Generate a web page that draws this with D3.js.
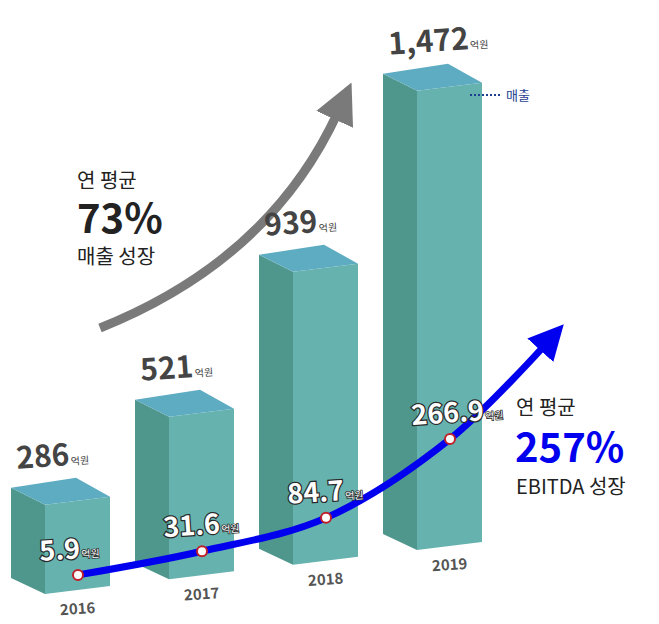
<!DOCTYPE html>
<html><head><meta charset="utf-8">
<script src="https://cdn.jsdelivr.net/npm/d3@7"></script>
<style>body{margin:0;background:#fff}text{font-family:"Noto Sans CJK KR","Noto Sans",sans-serif}</style>
</head><body><div id="chart"></div>
<script>
var years = ['2016','2017','2018','2019'];
var sales = [286, 521, 939, 1472];
var salesLabels = ['286','521','939','1,472'];
var ebitda = [5.9, 31.6, 84.7, 266.9];

var svg = d3.select('#chart').append('svg').attr('width', 659).attr('height', 624);

var x = d3.scalePoint().domain(years).range([45, 417]);   // front-left x of each bar
var base = d3.scalePoint().domain(years).range([594, 550]); // bar bottom
var h = d3.scaleLinear().domain([0, 1500]).range([0, 468]);
var yE = d3.scaleLinear().domain([0, 270]).range([17, 112]);
var W = 65, D = 34;

var defs = svg.append('defs');
defs.append('marker').attr('id', 'blueHead').attr('viewBox', '0 0 10 10').attr('refX', 2).attr('refY', 5)
  .attr('markerWidth', 5).attr('markerHeight', 5).attr('orient', 'auto')
  .append('path').attr('d', 'M0,0L10,5L0,10z').attr('fill', '#0000ee');
defs.append('marker').attr('id', 'grayHead').attr('viewBox', '0 0 10 10').attr('refX', 2).attr('refY', 5)
  .attr('markerWidth', 4.5).attr('markerHeight', 4.5).attr('orient', 'auto')
  .append('path').attr('d', 'M0,0L10,5L0,10z').attr('fill', '#7a7a7a');

// gray arrow
svg.append('path').attr('d', 'M100,328 Q270,260 338,112').attr('fill', 'none')
  .attr('stroke', '#7a7a7a').attr('stroke-width', 9).attr('marker-end', 'url(#grayHead)');

// bars
var g = svg.selectAll('.bar').data(years).enter().append('g');
g.each(function(yr, i) {
  var fx = x(yr), yb = base(yr), yt = yb - h(sales[i]), s = d3.select(this);
  s.append('path').attr('fill', '#4f978d')
    .attr('d', 'M' + (fx - D) + ',' + (yt - 17) + 'L' + fx + ',' + yt + 'L' + fx + ',' + yb + 'L' + (fx - D) + ',' + (yb - 16) + 'Z');
  s.append('path').attr('fill', '#66b2ae')
    .attr('d', 'M' + fx + ',' + yt + 'L' + (fx + W) + ',' + (yt - 8) + 'L' + (fx + W) + ',' + (yb - 8) + 'L' + fx + ',' + yb + 'Z');
  s.append('path').attr('fill', '#5eacc2')
    .attr('d', 'M' + (fx - D) + ',' + (yt - 17) + 'L' + (fx + 31) + ',' + (yt - 27) + 'L' + (fx + W) + ',' + (yt - 8) + 'L' + fx + ',' + yt + 'Z');
  var t = s.append('text').attr('x', fx - 28).attr('y', yt - 36).attr('fill', '#444')
    .attr('transform', 'rotate(-4,' + (fx - 28) + ',' + (yt - 36) + ')');
  t.append('tspan').text(salesLabels[i]).attr('font-size', 30).attr('font-weight', 'bold');
  t.append('tspan').text('억원').attr('font-size', 10).attr('dx', 1);
  s.append('text').attr('x', fx + 33).attr('y', yb + 20).attr('text-anchor', 'middle')
    .attr('font-size', 15).attr('font-weight', 'bold').attr('fill', '#555')
    .attr('transform', 'rotate(-4,' + (fx + 33) + ',' + (yb + 20) + ')').text(yr);
});

// EBITDA line
var pts = years.map(function(yr, i) { return [x(yr) + 33, base(yr) - yE(ebitda[i])]; });
var curve = pts.concat([[545, 345]]);
svg.append('path').attr('d', d3.line().curve(d3.curveCatmullRom)(curve)).attr('fill', 'none')
  .attr('stroke', '#0000ee').attr('stroke-width', 7).attr('marker-end', 'url(#blueHead)');
svg.selectAll('.pt').data(pts).enter().append('circle')
  .attr('cx', function(d) { return d[0]; }).attr('cy', function(d) { return d[1]; })
  .attr('r', 5).attr('fill', '#fff').attr('stroke', '#c0202a').attr('stroke-width', 2);
svg.selectAll('.el').data(pts).enter().append('text')
  .attr('x', function(d) { return d[0] - 38; }).attr('y', function(d) { return d[1] - 14; })
  .attr('fill', '#fff').attr('stroke', '#2a2a2a').attr('stroke-width', 2.5).attr('paint-order', 'stroke')
  .attr('transform', function(d) { return 'rotate(-4,' + (d[0] - 38) + ',' + (d[1] - 14) + ')'; })
  .each(function(d, i) {
    var t = d3.select(this);
    t.append('tspan').text(ebitda[i]).attr('font-size', 27).attr('font-weight', 'bold');
    t.append('tspan').text('억원').attr('font-size', 10).attr('dx', 1).attr('stroke-width', 1.5);
  });

// legend
svg.append('line').attr('x1', 470).attr('x2', 502).attr('y1', 95).attr('y2', 95)
  .attr('stroke', '#1d3f8f').attr('stroke-width', 2).attr('stroke-dasharray', '2,2');
svg.append('text').attr('x', 506).attr('y', 100).attr('font-size', 13).attr('fill', '#1d3f8f').text('매출');

// annotations
svg.append('text').attr('x', 77).attr('y', 188).attr('font-size', 20).attr('fill', '#222').text('연 평균');
svg.append('text').attr('x', 77).attr('y', 233).attr('font-size', 40).attr('font-weight', 'bold').attr('fill', '#222').text('73%');
svg.append('text').attr('x', 77).attr('y', 264).attr('font-size', 20).attr('fill', '#222').text('매출 성장');
svg.append('text').attr('x', 516).attr('y', 415).attr('font-size', 20).attr('fill', '#222').text('연 평균');
svg.append('text').attr('x', 515).attr('y', 462).attr('font-size', 40).attr('font-weight', 'bold').attr('fill', '#0000ee').text('257%');
svg.append('text').attr('x', 516).attr('y', 494).attr('font-size', 20).attr('fill', '#222').text('EBITDA 성장');
</script></body></html>
